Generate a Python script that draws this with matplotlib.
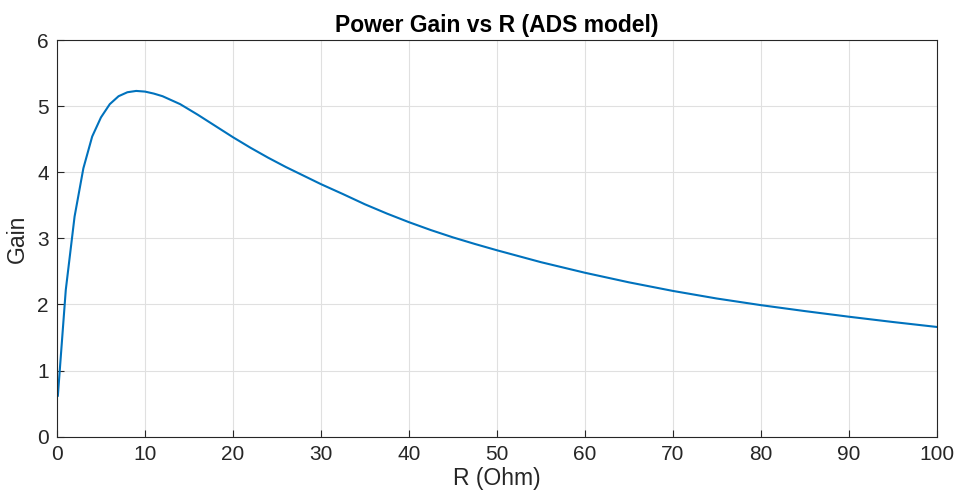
import numpy as np
import matplotlib.pyplot as plt

# values
R = [0.1, 1, 2, 3, 4, 5, 6, 7, 8, 9, 10, 11, 12, 13, 14, 15, 16, 18, 20, 22,
     24, 26, 28, 30, 32.5, 35, 37.5, 40, 42.5, 45, 47.5, 50, 55, 60, 65, 70,
     75, 80, 85, 90, 95, 100]
gain = [0.62, 2.22, 3.33, 4.06, 4.54, 4.83, 5.03, 5.15, 5.21, 5.23, 5.22, 5.19,
        5.15, 5.09, 5.03, 4.95, 4.87, 4.70, 4.53, 4.37, 4.22, 4.08, 3.95, 3.82,
        3.67, 3.515, 3.375, 3.245, 3.125, 3.015, 2.915, 2.82, 2.64, 2.48, 2.335,
        2.205, 2.09, 1.99, 1.90, 1.815, 1.735, 1.66]

plt.rcParams['font.family'] = ['Liberation Sans', 'DejaVu Sans']

fig = plt.figure(figsize=(9.56, 5.04), dpi=100)
ax = fig.add_axes([0.0596, 0.1335, 0.9204, 0.7871])

ax.plot(R, gain, color='#0072BD', lw=1.5)

ax.set_xlim(0, 100)
ax.set_ylim(0, 6)
ax.set_xticks(np.arange(0, 101, 10))
ax.set_yticks(np.arange(0, 7, 1))
ax.grid(True, color='#e0e0e0', lw=0.8)
ax.set_axisbelow(True)
ax.tick_params(direction='in', length=5, width=0.8, colors='#262626',
               labelsize=15, top=False, right=False, pad=6)
for s in ax.spines.values():
    s.set_color('#262626')
    s.set_linewidth(0.8)

ax.set_title('Power Gain vs R (ADS model)', fontsize=16.5, fontweight='bold', pad=6)
ax.set_xlabel('R (Ohm)', fontsize=16.5, color='#262626', labelpad=2)
ax.set_ylabel('Gain', fontsize=16.5, color='#262626', labelpad=6)

fig.savefig('out.png', dpi=100)
